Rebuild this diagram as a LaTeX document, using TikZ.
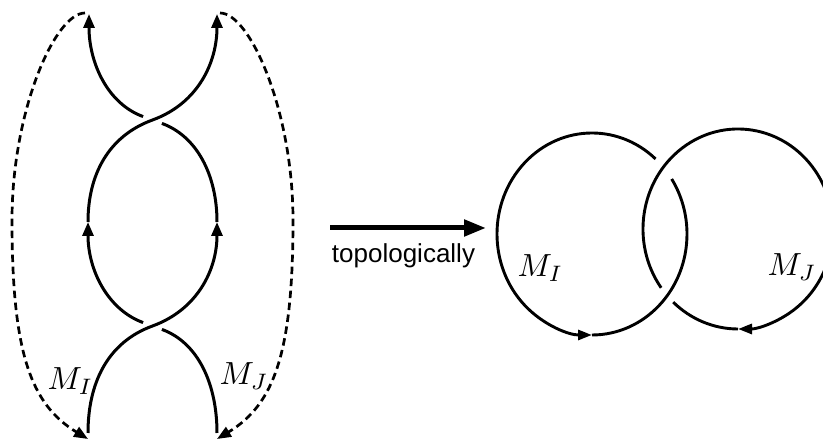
\documentclass[tikz,border=0pt]{standalone}
\usepackage{fontspec}
\newfontfamily\labelsans{Liberation Sans}
\usetikzlibrary{arrows.meta}
\begin{document}
\begin{tikzpicture}[x=1pt,y=1pt,
  strand/.style={line width=3pt},
  dashloop/.style={line width=2.7pt, dash pattern=on 7.5pt off 4.5pt},
  ring/.style={line width=2.9pt},
  tipS/.tip={Triangle[length=14pt,width=11pt]},
  tipR/.tip={Triangle[length=14pt,width=10pt]},
  tipB/.tip={Triangle[length=22pt,width=16pt]},
  lab/.style={anchor=base west, inner sep=0pt, scale=3.2}]
\useasboundingbox (0,0) rectangle (823,441);
\clip (0,0) rectangle (823,441);
% left braid
\coordinate (TL) at (89,427);
\coordinate (TR) at (217,427);
\coordinate (UC) at (152.5,321);
\coordinate (EL) at (88,219);
\coordinate (ER) at (217,219);
\coordinate (LC) at (152.5,115);
\coordinate (BL) at (88,8);
\coordinate (BR) at (217,8);
\coordinate (DTL) at (85,428);
\coordinate (DTR) at (220,428);
\coordinate (DBL) at (88,2);
\coordinate (DBR) at (217,2);
% upper crossing
\draw[strand,-tipS] (EL) to[out=90,in=200] (UC) to[out=20,in=-90] (TR);
\draw[strand,shorten >=10pt] (ER) to[out=90,in=-20] (UC);
\draw[strand,shorten <=10pt,-tipS] (UC) to[out=160,in=-90] (TL);
% lower crossing
\draw[strand,-tipS] (BL) to[out=90,in=200] (LC) to[out=20,in=-90] (ER);
\draw[strand,shorten >=10pt] (BR) to[out=90,in=-20] (LC);
\draw[strand,shorten <=10pt,-tipS] (LC) to[out=160,in=-90] (EL);
% dashed closures
\draw[dashloop,-tipS] (DTL) .. controls (55,428) and (12,330) .. (12,221)
  .. controls (12,90) and (30,37) .. (DBL);
\draw[dashloop,-tipS] (DTR) .. controls (250,428) and (293,330) .. (293,221)
  .. controls (293,90) and (275,37) .. (DBR);
\node[lab] (mi1) at (47,51) {$M_I$};
\node[lab] (mj1) at (219,56) {$M_J$};
% arrow
\coordinate (A1) at (330,213);
\coordinate (A2) at (486,213);
\draw[line width=5pt,-tipB] (A1) -- (A2);
\node[anchor=base, inner sep=0pt, font=\labelsans\fontsize{26}{30}\selectfont] (topo) at (403.5,178) {topologically};
% Hopf link
\coordinate (CI) at (592,207);
\coordinate (CJ) at (738,212);
\draw[ring,-tipR] ([shift={(48:95 and 101)}]CI) arc[start angle=48,end angle=270,x radius=95,y radius=101];
\draw[ring] ([shift={(270:95 and 101)}]CI) arc[start angle=270,end angle=393,x radius=95,y radius=101];
\draw[ring,-tipR] ([shift={(216:95 and 100)}]CJ) arc[start angle=216,end angle=-90,x radius=95,y radius=100];
\draw[ring] ([shift={(-90:95 and 100)}]CJ) arc[start angle=-90,end angle=-133,x radius=95,y radius=100];
\node[lab] (mi2) at (517,164) {$M_I$};
\node[lab] (mj2) at (767,165) {$M_J$};
\end{tikzpicture}
\end{document}
